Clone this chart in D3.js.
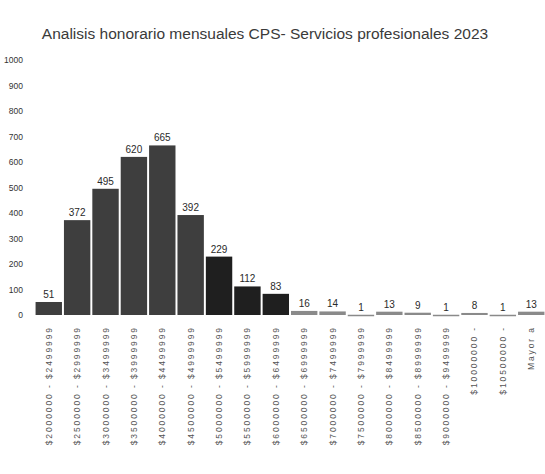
<!DOCTYPE html>
<html>
<head>
<meta charset="utf-8">
<script src="https://cdn.jsdelivr.net/npm/d3@7"></script>
<style>
  body { margin: 0; background: #fff; }
  svg { display: block; font-family: "Liberation Sans", "DejaVu Sans", sans-serif; }
</style>
</head>
<body>
<div class="bar-chart"></div>
<script>
// datos
const categorias = [
  '$2000000 - $2499999', '$2500000 - $2999999', '$3000000 - $3499999',
  '$3500000 - $3999999', '$4000000 - $4499999', '$4500000 - $4999999',
  '$5000000 - $5499999', '$5500000 - $5999999', '$6000000 - $6499999',
  '$6500000 - $6999999', '$7000000 - $7499999', '$7500000 - $7999999',
  '$8000000 - $8499999', '$8500000 - $8999999', '$9000000 - $9499999',
  '$10000000 -', '$10500000 -', 'Mayor a'
];
const cantidades = [51, 372, 495, 620, 665, 392, 229, 112, 83, 16, 14, 1, 13, 9, 1, 8, 1, 13];
const yTicks = [0, 100, 200, 300, 400, 500, 600, 700, 800, 900, 1000];
const titulo = 'Analisis honorario mensuales CPS- Servicios profesionales 2023';

const svg_width = 545;
const svg_height = 474;
const margin = {top: 60, right: 0, bottom: 159, left: 35};

const svg = d3.select('.bar-chart').append('svg')
  .attr('width', svg_width).attr('height', svg_height);

// escalas
const xScale = d3.scaleBand().domain(categorias)
  .range([margin.left, svg_width - margin.right]).paddingInner(0.07).paddingOuter(0.02);
const yScale = d3.scaleLinear().domain([0, 1000])
  .range([svg_height - margin.bottom, margin.top]);

// color segun grupo de barras
const colorBarra = i => i < 6 ? '#3e3e3e' : (i < 9 ? '#1f1f1f' : '#8a8a8a');

// barras
svg.append('g').selectAll('rect').data(cantidades).enter()
  .append('rect')
  .attr('x', (d, i) => xScale(categorias[i]))
  .attr('width', xScale.bandwidth())
  .attr('y', d => yScale(d))
  .attr('height', d => Math.max(1.5, yScale(0) - yScale(d)))
  .style('fill', (d, i) => colorBarra(i));

// etiquetas de valor
svg.append('g').selectAll('text').data(cantidades).enter()
  .append('text')
  .attr('x', (d, i) => xScale(categorias[i]) + xScale.bandwidth() / 2)
  .attr('y', d => yScale(d) - 4)
  .attr('text-anchor', 'middle')
  .style('font-size', '10px')
  .style('fill', '#2a2a2a')
  .text(d => d);

// eje y (solo texto)
const yAxis = d3.axisLeft(yScale).tickValues(yTicks).tickFormat(d3.format('d'))
  .tickSize(0).tickPadding(0);
const yG = svg.append('g').attr('transform', 'translate(23,0)').call(yAxis);
yG.select('.domain').remove();
yG.selectAll('text')
  .style('font-family', '"Liberation Sans", sans-serif')
  .style('font-size', '8.5px')
  .style('fill', '#333');

// eje x (etiquetas verticales)
const xAxis = d3.axisBottom(xScale).tickSize(0).tickPadding(0);
const xG = svg.append('g').attr('transform', `translate(0,${yScale(0) + 11})`).call(xAxis);
xG.select('.domain').remove();
xG.selectAll('text')
  .attr('transform', 'rotate(-90)')
  .attr('x', 0).attr('y', 0).attr('dy', '0.35em')
  .attr('text-anchor', 'end')
  .style('font-family', '"Liberation Sans", sans-serif')
  .style('font-size', '8.5px')
  .style('letter-spacing', '1.9px')
  .style('fill', '#555');

// titulo
svg.append('text')
  .attr('x', 265).attr('y', 39)
  .attr('text-anchor', 'middle')
  .style('font-size', '15.5px')
  .style('fill', '#3a3a3a')
  .text(titulo);
</script>
</body>
</html>
